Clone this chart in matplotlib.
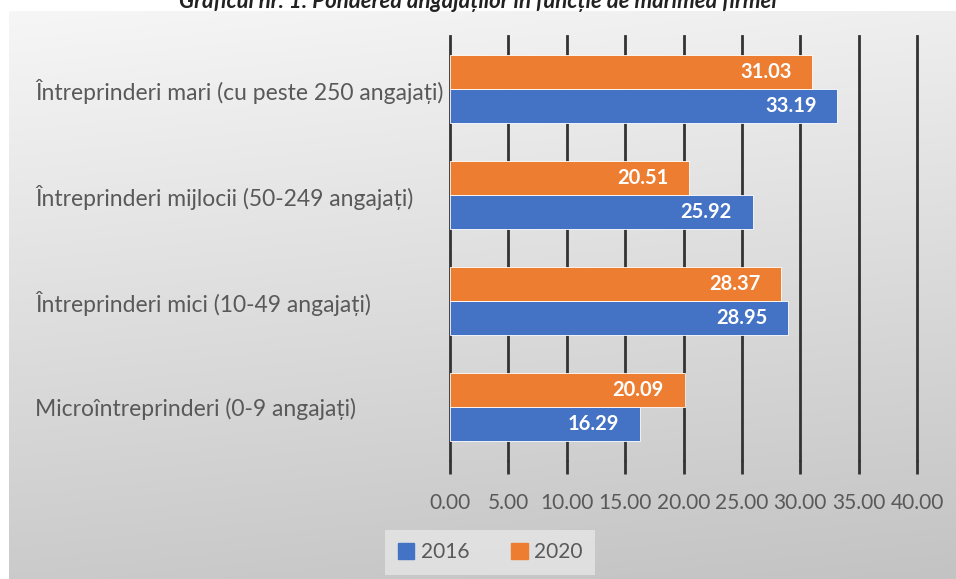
import matplotlib.pyplot as plt
import numpy as np
from matplotlib.patches import Patch

# Data
categories = [
    "Întreprinderi mari (cu peste 250 angajați)",
    "Întreprinderi mijlocii (50-249 angajați)",
    "Întreprinderi mici (10-49 angajați)",
    "Microîntreprinderi (0-9 angajați)",
]
values_2016 = [33.19, 25.92, 28.95, 16.29]
values_2020 = [31.03, 20.51, 28.37, 20.09]
years = ["2016", "2020"]
xticks = [0, 5, 10, 15, 20, 25, 30, 35, 40]

title = "Graficul nr. 1: Ponderea angajaților în funcție de mărimea firmei"

blue = "#4472C4"
orange = "#ED7D31"
text_col = "#595959"
font = ["Lato", "DejaVu Sans"]

plt.rcParams["font.family"] = font

fig = plt.figure(figsize=(9.56, 5.79), dpi=100)
W, H = 956, 579

# gradient background frame
bg = fig.add_axes([9 / W, 0, 1 - 9 / W, 1 - 11 / H], zorder=0)
yy = np.linspace(0, 1, 200)[:, None]
xx = np.linspace(0, 1, 200)[None, :]
shade = 0.965 - 0.17 * yy - 0.03 * xx
bg.imshow(np.dstack([shade] * 3), aspect="auto", extent=[0, 1, 0, 1], origin="upper")
bg.set_axis_off()

fig.text(0.5, 0.997, title, ha="center", va="center", fontsize=16,
         fontweight="bold", fontstyle="italic", color="#222222")

ax = fig.add_axes([450 / W, 1 - 460 / H, 467 / W, 424 / H], zorder=2)
ax.patch.set_alpha(0)

pos = np.arange(len(categories))[::-1]
h = 0.32
b1 = ax.barh(pos - h / 2, values_2016, height=h, color=blue, edgecolor="white",
             linewidth=0.6, zorder=3, label=years[0])
b2 = ax.barh(pos + h / 2, values_2020, height=h, color=orange, edgecolor="white",
             linewidth=0.6, zorder=3, label=years[1])
for bars in (b1, b2):
    ax.bar_label(bars, labels=[f"{v:.2f}" for v in bars.datavalues], padding=-52,
                 color="white", fontweight="bold", fontsize=14.5)

ax.set_xlim(0, 40)
ax.set_ylim(-0.5, 3.5)
ax.set_xticks(xticks)
ax.set_xticklabels([f"{t:.2f}" for t in xticks], color=text_col, fontsize=15)
ax.set_yticks(pos)
ax.set_yticklabels(categories, color=text_col, fontsize=16.5, ha="left")
ax.tick_params(axis="y", length=0, pad=(450 - 35) * 0.72)
ax.tick_params(axis="x", length=10, width=2, color="#333333", pad=14)
ax.grid(axis="x", color="#333333", linewidth=2, zorder=1)
for gl in ax.get_xgridlines():
    gl.set_clip_on(False)
for s in ax.spines.values():
    s.set_visible(False)

handles = [Patch(color=blue), Patch(color=orange)]
leg = fig.legend(handles, years, loc="center", bbox_to_anchor=(490 / W, 1 - 552 / H),
                 ncol=2, frameon=True, fontsize=15, handlelength=0.8, handleheight=0.8,
                 handletextpad=0.3, columnspacing=2.0, borderpad=0.6)
leg.get_frame().set_facecolor("#e6e6e6")
leg.get_frame().set_edgecolor("none")
leg.get_frame().set_boxstyle("square", pad=0)
for t in leg.get_texts():
    t.set_color(text_col)

fig.savefig("out.png", dpi=100)
